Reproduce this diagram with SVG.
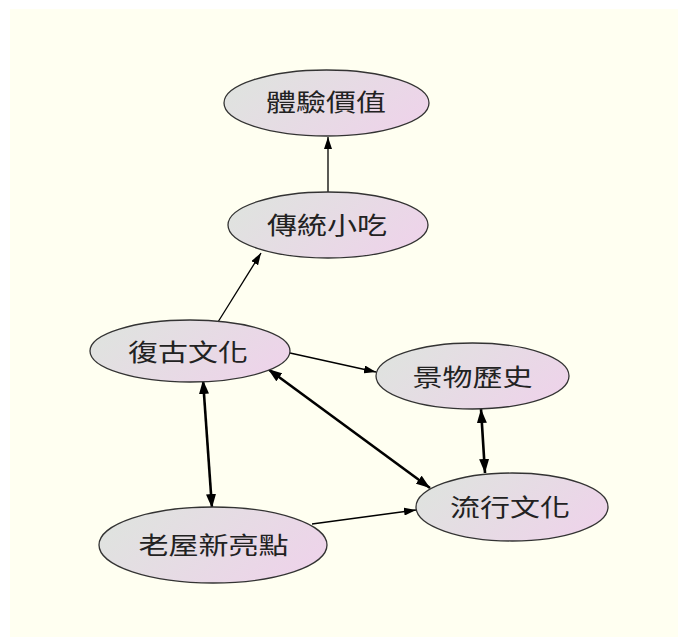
<svg xmlns="http://www.w3.org/2000/svg" width="678" height="637" viewBox="0 0 678 637">
<defs>
<linearGradient id="g" x1="0" y1="0.3" x2="1" y2="0.7">
<stop offset="0" stop-color="#dfe3df"/>
<stop offset="1" stop-color="#eed3ea"/>
</linearGradient>
<marker id="ah" viewBox="0 0 12 8" refX="12" refY="4" markerWidth="12" markerHeight="8" markerUnits="userSpaceOnUse" orient="auto-start-reverse">
<path d="M0,0 L12,4 L0,8 z" fill="#000"/>
</marker>
<marker id="bh" viewBox="0 0 14 10" refX="14" refY="5" markerWidth="14" markerHeight="10" markerUnits="userSpaceOnUse" orient="auto-start-reverse">
<path d="M0,0 L14,5 L0,10 z" fill="#000"/>
</marker>
</defs>
<style>
.n ellipse{fill:url(#g);stroke:#333;stroke-width:1.3}
.n text{font-family:"Noto Sans CJK TC","Noto Sans CJK SC",sans-serif;font-size:24px;fill:#222;text-anchor:middle}
.e{stroke:#000;fill:none;stroke-width:1.3;marker-end:url(#ah)}
.b{stroke:#000;fill:none;stroke-width:2.6;marker-start:url(#bh);marker-end:url(#bh)}
</style>
<rect x="10" y="9" width="668" height="628" fill="#fffff1"/>
<g id="edges">
<line class="e" x1="328" y1="192" x2="328" y2="137"/>
<line class="e" x1="218" y1="322" x2="261" y2="253"/>
<line class="e" x1="290" y1="353" x2="376" y2="372"/>
<line class="b" x1="268" y1="369" x2="430" y2="488"/>
<line class="b" x1="203" y1="380" x2="212" y2="508"/>
<line class="b" x1="481" y1="409" x2="485" y2="473"/>
<line class="e" x1="312" y1="524" x2="416" y2="510"/>
</g>
<g id="n1" class="n"><ellipse cx="326.5" cy="103" rx="102.5" ry="33"/><text x="326" y="111" textLength="120" lengthAdjust="spacingAndGlyphs">體驗價值</text></g>
<g id="n2" class="n"><ellipse cx="328" cy="225" rx="100" ry="33"/><text x="327" y="234" textLength="120" lengthAdjust="spacingAndGlyphs">傳統小吃</text></g>
<g id="n3" class="n"><ellipse cx="190" cy="351" rx="100" ry="31"/><text x="188" y="361" textLength="120" lengthAdjust="spacingAndGlyphs">復古文化</text></g>
<g id="n4" class="n"><ellipse cx="472.5" cy="376" rx="96.5" ry="33"/><text x="472.5" y="386" textLength="120" lengthAdjust="spacingAndGlyphs">景物歷史</text></g>
<g id="n5" class="n"><ellipse cx="512" cy="507" rx="96" ry="34"/><text x="510" y="516" textLength="120" lengthAdjust="spacingAndGlyphs">流行文化</text></g>
<g id="n6" class="n"><ellipse cx="213" cy="545" rx="114" ry="38"/><text x="213.5" y="554" textLength="150" lengthAdjust="spacingAndGlyphs">老屋新亮點</text></g>
</svg>
